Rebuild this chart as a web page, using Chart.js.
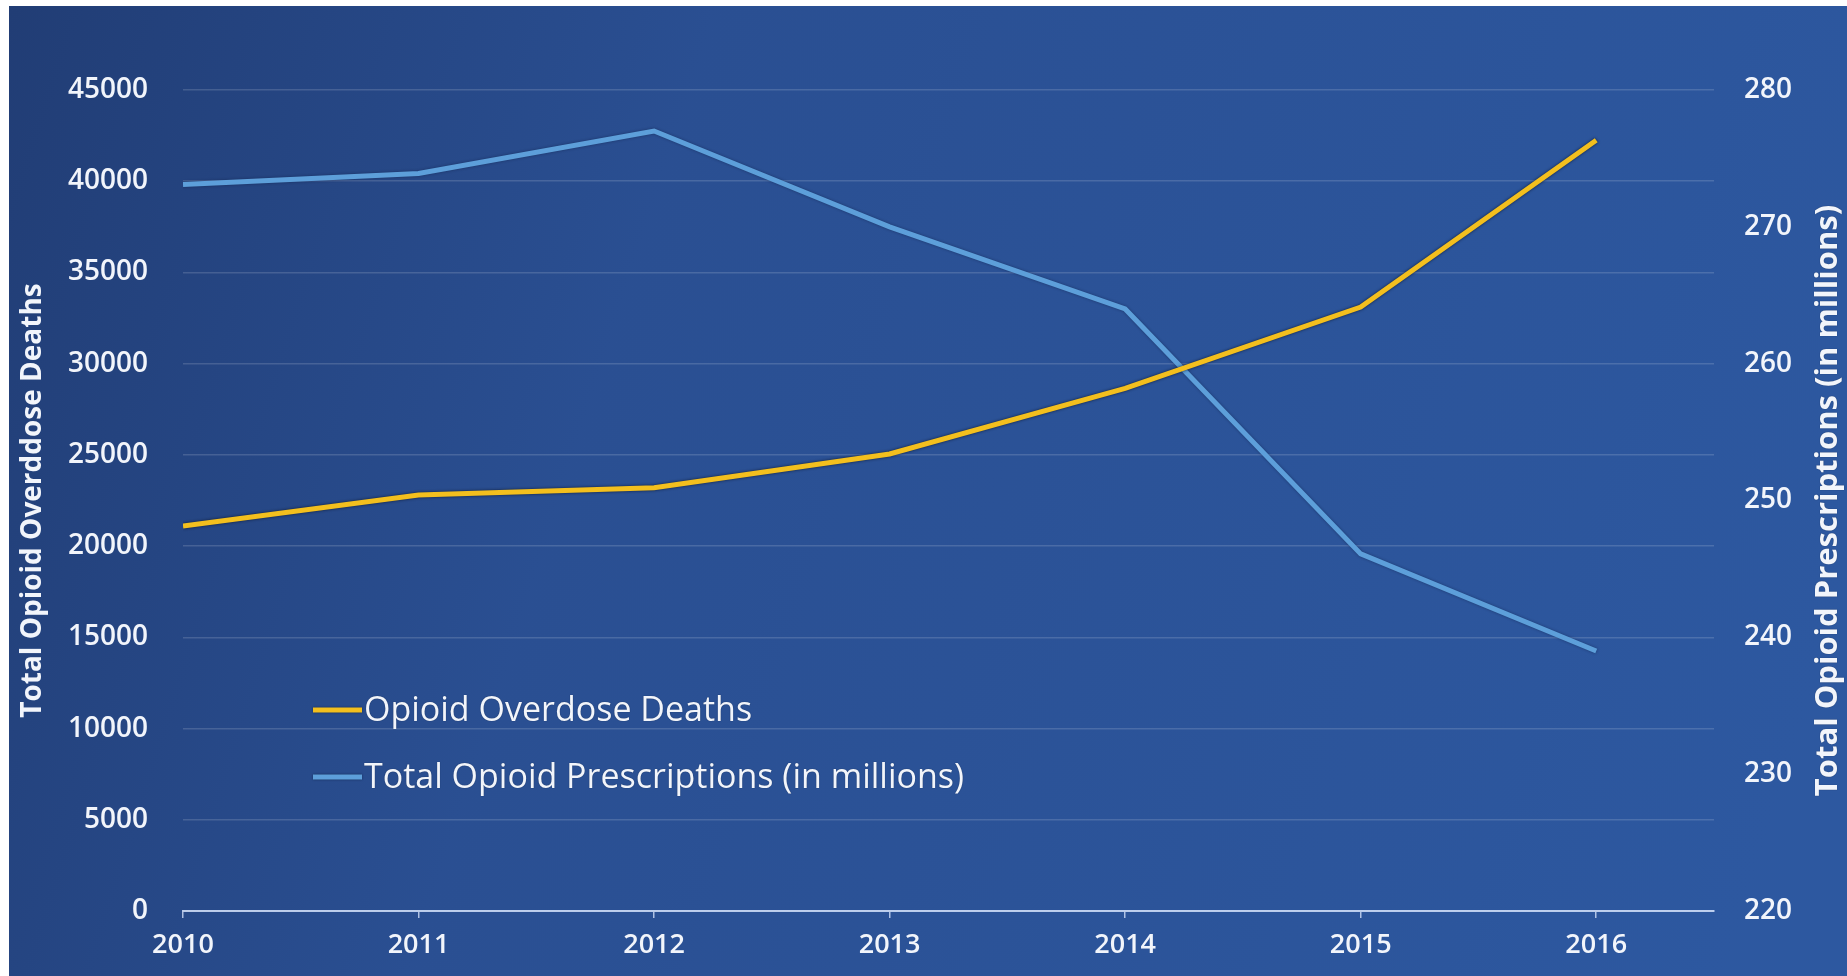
<!DOCTYPE html>
<html>
<head>
<meta charset="utf-8">
<title>Opioid deaths and prescriptions</title>
<script src="https://cdn.jsdelivr.net/npm/chart.js@4.4.1/dist/chart.umd.min.js"></script>
<style>
  html, body { margin: 0; padding: 0; background: #ffffff; }
  #wrap { position: absolute; left: 9px; top: 6px; width: 1838px; height: 970px; }
</style>
</head>
<body>
<div id="wrap"><canvas id="chart"></canvas></div>
<script>
// years on the x axis
var years = [2010, 2011, 2012, 2013, 2014, 2015, 2016];
// left axis: total opioid overdose deaths
var deaths = [21100, 22800, 23200, 25050, 28650, 33100, 42250];
// right axis: total opioid prescriptions, millions
var prescriptions = [273.1, 273.9, 277.0, 270.0, 264.0, 246.1, 239.0];

var deathsLabel = 'Opioid Overdose Deaths';
var rxLabel = 'Total Opioid Prescriptions (in millions)';
var leftTitle = 'Total Opioid Overddose Deaths';
var rightTitle = 'Total Opioid Prescriptions (in millions)';

var FONT = '"Open Sans", "DejaVu Sans", sans-serif';
var TEXT = '#f2f5fb';
var YELLOW = '#f3bf1e';
var BLUE = '#5d9fda';

function points(vals) {
  return years.map(function(y, i) { return { x: y, y: vals[i] }; });
}

// dark blue slide background
var bgPlugin = {
  id: 'bg',
  beforeDraw: function(chart) {
    var ctx = chart.ctx, w = chart.width, h = chart.height;
    var g = ctx.createLinearGradient(0, 0, w, h * 0.6);
    g.addColorStop(0, '#213d75');
    g.addColorStop(0.35, '#2a4f92');
    g.addColorStop(1, '#2d58a0');
    ctx.save();
    ctx.fillStyle = g;
    ctx.fillRect(0, 0, w, h);
    ctx.restore();
  }
};

// soft dark edge around the lines
var shadowPlugin = {
  id: 'lineShadow',
  beforeDatasetDraw: function(chart, args) {
    var ctx = chart.ctx;
    ctx.save();
    ctx.shadowColor = args.index === 0 ? 'rgba(10,20,40,0.85)' : 'rgba(10,20,50,0.45)';
    ctx.shadowBlur = 3;
  },
  afterDatasetDraw: function(chart) {
    chart.ctx.restore();
  }
};

// legend inside the plot + right axis title reading upwards
var extrasPlugin = {
  id: 'extras',
  afterDraw: function(chart) {
    var ctx = chart.ctx, area = chart.chartArea;
    ctx.save();
    var items = chart.data.datasets;
    for (var i = 0; i < items.length; i++) {
      var x = area.left + 130;
      var y = area.top + 620 + i * 67;
      ctx.shadowColor = 'rgba(10,20,40,0.6)';
      ctx.shadowBlur = 2;
      ctx.strokeStyle = items[i].borderColor;
      ctx.lineWidth = 5;
      ctx.beginPath();
      ctx.moveTo(x, y);
      ctx.lineTo(x + 49, y);
      ctx.stroke();
      ctx.shadowBlur = 1;
      ctx.fillStyle = TEXT;
      ctx.font = '34px ' + FONT;
      ctx.textAlign = 'left';
      ctx.textBaseline = 'middle';
      ctx.fillText(items[i].label, x + 51, y + 1);
    }
    var s = chart.scales.y1;
    ctx.translate(s.right - 19, (area.top + area.bottom) / 2);
    ctx.rotate(-Math.PI / 2);
    ctx.font = 'bold 31px ' + FONT;
    ctx.textAlign = 'center';
    ctx.textBaseline = 'middle';
    ctx.fillText(rightTitle, 0, 0);
    ctx.restore();
  }
};

var yTickFont = { family: FONT, size: 28, weight: 600 };
var xTickFont = { family: FONT, size: 27, weight: 600 };

window.onload = function() {
  var ctx = document.getElementById('chart').getContext('2d');
  window.theChart = new Chart(ctx, {
    type: 'line',
    data: {
      datasets: [{
        label: deathsLabel,
        data: points(deaths),
        borderColor: YELLOW,
        backgroundColor: YELLOW,
        borderWidth: 5,
        pointRadius: 0,
        tension: 0,
        yAxisID: 'y'
      }, {
        label: rxLabel,
        data: points(prescriptions),
        borderColor: BLUE,
        backgroundColor: BLUE,
        borderWidth: 5,
        pointRadius: 0,
        tension: 0,
        yAxisID: 'y1'
      }]
    },
    options: {
      responsive: true,
      maintainAspectRatio: false,
      animation: false,
      layout: { padding: { top: 84, left: 0, right: 0, bottom: 0 } },
      plugins: {
        legend: { display: false },
        tooltip: { enabled: false }
      },
      scales: {
        x: {
          type: 'linear',
          min: 2010,
          max: 2016.5,
          afterFit: function(s) { s.height = 65; },
          ticks: {
            stepSize: 1,
            includeBounds: false,
            autoSkip: false,
            maxRotation: 0,
            padding: 11,
            color: TEXT,
            font: xTickFont,
            callback: function(v) { return String(v); }
          },
          grid: {
            drawOnChartArea: false,
            drawTicks: true,
            tickLength: 7,
            color: 'rgba(220,232,255,0.75)',
            lineWidth: 1.5
          },
          border: { display: true, color: 'rgba(220,232,255,0.8)', width: 2 }
        },
        y: {
          position: 'left',
          min: 0,
          max: 45000,
          afterFit: function(s) { s.width = 174; },
          ticks: {
            stepSize: 5000,
            padding: 35,
            color: TEXT,
            font: yTickFont,
            callback: function(v) { return String(v); }
          },
          grid: { drawTicks: false, color: 'rgba(255,255,255,0.15)', lineWidth: 1.5 },
          border: { display: false },
          title: {
            display: true,
            text: leftTitle,
            color: TEXT,
            font: { family: FONT, size: 28, weight: 'bold' },
            padding: { top: 7, bottom: 0 }
          }
        },
        y1: {
          position: 'right',
          min: 220,
          max: 280,
          afterFit: function(s) { s.width = 133; },
          ticks: {
            stepSize: 10,
            padding: 30,
            color: TEXT,
            font: yTickFont,
            callback: function(v) { return String(v); }
          },
          grid: { drawOnChartArea: false, drawTicks: false },
          border: { display: false }
        }
      }
    },
    plugins: [bgPlugin, shadowPlugin, extrasPlugin]
  });
};
</script>
</body>
</html>
